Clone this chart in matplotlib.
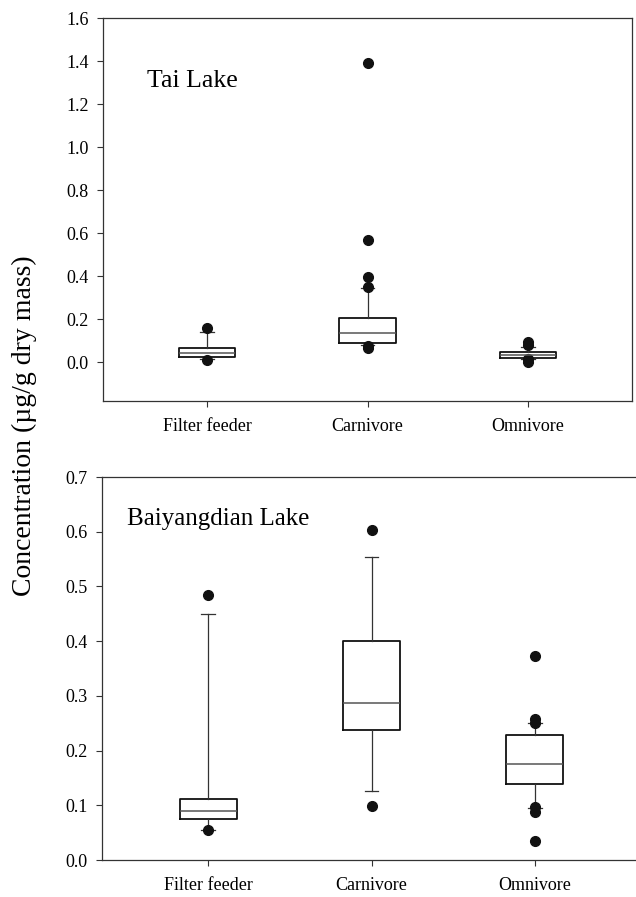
import matplotlib
matplotlib.use("Agg")
import matplotlib.pyplot as plt

plt.rcParams['font.family'] = ['Liberation Serif', 'DejaVu Serif']

# Categorías
grupos = ["Filter feeder", "Carnivore", "Omnivore"]

# Tai Lake (resumen de cajas)
tai_q1 = [0.023, 0.091, 0.018]
tai_med = [0.043, 0.135, 0.034]
tai_q3 = [0.066, 0.205, 0.046]
tai_whislo = [0.015, 0.079, 0.015]
tai_whishi = [0.140, 0.343, 0.069]
tai_fliers = [[0.157, 0.012],
              [1.389, 0.566, 0.396, 0.349, 0.077, 0.065],
              [0.096, 0.079, 0.015, 0.0]]

# Baiyangdian Lake
bai_q1 = [0.075, 0.237, 0.138]
bai_med = [0.089, 0.287, 0.176]
bai_q3 = [0.111, 0.400, 0.229]
bai_whislo = [0.054, 0.127, 0.095]
bai_whishi = [0.449, 0.553, 0.251]
bai_fliers = [[0.485, 0.054],
              [0.604, 0.099],
              [0.372, 0.257, 0.250, 0.097, 0.088, 0.035]]


def stats(q1, med, q3, lo, hi, fl):
    out = []
    for i in range(len(grupos)):
        out.append(dict(q1=q1[i], med=med[i], q3=q3[i], whislo=lo[i],
                        whishi=hi[i], fliers=fl[i], label=grupos[i]))
    return out


def dibujar(ax, st):
    ax.bxp(st, positions=[1, 2, 3], widths=0.35, capwidths=0.085,
           showfliers=True,
           boxprops=dict(color='#111111', linewidth=1.3),
           medianprops=dict(color='#555555', linewidth=1.1),
           whiskerprops=dict(color='#333333', linewidth=0.9),
           capprops=dict(color='#333333', linewidth=0.9),
           flierprops=dict(marker='o', markerfacecolor='#111111',
                           markeredgecolor='#111111', markersize=7))
    ax.set_xlim(0.35, 3.65)
    ax.tick_params(axis='both', direction='out', length=4.5, width=0.8,
                   labelsize=13, color='#333333')
    ax.tick_params(axis='y', pad=6)
    ax.tick_params(axis='x', pad=8)
    for s in ax.spines.values():
        s.set_linewidth(0.9)
        s.set_color('#333333')


fig = plt.figure(figsize=(6.36, 8.97), dpi=100)

ax1 = fig.add_axes([103 / 636, 1 - 401 / 897, 529 / 636, 383 / 897])
dibujar(ax1, stats(tai_q1, tai_med, tai_q3, tai_whislo, tai_whishi, tai_fliers))
ax1.set_ylim(-0.18, 1.6)
ax1.set_yticks([0.0, 0.2, 0.4, 0.6, 0.8, 1.0, 1.2, 1.4, 1.6])
ax1.set_yticklabels(["%.1f" % v for v in ax1.get_yticks()])
ax1.text(0.083, 0.82, "Tai Lake", transform=ax1.transAxes, fontsize=18.5,
         ha='left', va='baseline')

ax2 = fig.add_axes([102 / 636, 1 - 860 / 897, 539 / 636, 383 / 897])
dibujar(ax2, stats(bai_q1, bai_med, bai_q3, bai_whislo, bai_whishi, bai_fliers))
ax2.set_ylim(0.0, 0.7)
ax2.set_yticks([0.0, 0.1, 0.2, 0.3, 0.4, 0.5, 0.6, 0.7])
ax2.set_yticklabels(["%.1f" % v for v in ax2.get_yticks()])
ax2.spines['right'].set_visible(False)
ax2.text(0.046, 0.875, "Baiyangdian Lake", transform=ax2.transAxes,
         fontsize=18, ha='left', va='baseline')

fig.text(24 / 636, 1 - 426 / 897, "Concentration (µg/g dry mass)",
         rotation=90, ha='center', va='center', fontsize=20)

fig.savefig("out.png", dpi=100)
